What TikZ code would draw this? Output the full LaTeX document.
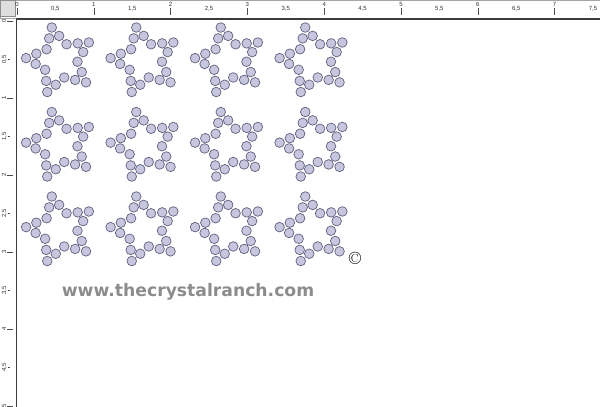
\documentclass[tikz,border=0pt]{standalone}
\usepackage{fontspec}
\newfontfamily\rulerfont{Liberation Sans}
\newfontfamily\markfont{DejaVu Sans}
\usetikzlibrary{calc}
\definecolor{beadfill}{RGB}{198,198,222}
\definecolor{beadline}{RGB}{96,96,128}
\definecolor{rulerline}{RGB}{60,60,60}
\definecolor{cornerfill}{RGB}{222,222,222}
\definecolor{markgray}{RGB}{140,140,140}

\begin{document}
\begin{tikzpicture}[x=1pt, y=1pt,
  bead/.style={draw=beadline, fill=beadfill, line width=0.7pt},
  tick/.style={draw=black!70, line width=0.5pt},
  ruler label/.style={font=\rulerfont\fontsize{6}{7}\selectfont,
    text=black!80, inner sep=0.5pt},
  side label/.style={ruler label, rotate=90},
  watermark/.style={font=\markfont\bfseries\fontsize{17.2}{20}\selectfont,
    text=markgray, inner sep=0pt}
  ]
  \useasboundingbox (0,0) rectangle (600,-407);
  \fill[white] (0,0) rectangle (600,-407);

  % rulers
  \draw[black!35, fill=white] (0,0) rectangle (600,-18);
  \draw[black!45, fill=cornerfill] (0.5,-0.5) rectangle (15,-16.5);
  \draw[rulerline, line width=1.6pt] (16,-19) -- (600,-19);
  \draw[rulerline, line width=1.6pt] (16.5,-19) -- (16.5,-407);

  \foreach \k in {0,...,7} {
    \node[ruler label] (top\k) at ({17+76.8*\k},-4.8) {\k};
    \draw[tick] (top\k.south) -- ++(0,-7);
    \node[ruler label] (tophalf\k) at ({17+76.8*(\k+0.5)},-9) {\k,5};
  }
  \foreach \k in {0,...,5} {
    \node[side label] (left\k) at (4,{-21-77*\k}) {\k};
    \draw[tick] (left\k.south) -- ++(6,0);
  }
  \foreach \k in {0,...,4} {
    \node[side label] (lefthalf\k) at (4.5,{-21-77*(\k+0.5)}) {\k,5};
    \draw[tick] (lefthalf\k.south) -- ++(2,0);
  }

  % stars of beads
  \foreach \i in {0,...,3} {
    \foreach \j in {0,...,2} {
      \coordinate (star\i\j) at ({60+84.5*\i},{-60.5-84.5*\j});
      \foreach \k in {0,...,4} {
        \pgfmathsetmacro\a{104+72*\k}
        \draw[bead] ($(star\i\j)+(\a:34)$) circle[radius=4.8pt];
        \draw[bead] ($(star\i\j)+0.5*(\a:34)+0.5*({\a-36}:17.5)$) circle[radius=4.8pt];
        \draw[bead] ($(star\i\j)+({\a-36}:17.5)$) circle[radius=4.8pt];
        \draw[bead] ($(star\i\j)+0.5*({\a-36}:17.5)+0.5*({\a-72}:34)$) circle[radius=4.8pt];
      }
    }
  }

  \node[font=\fontsize{18}{20}\selectfont, inner sep=0pt] (copy) at (355,-258) {\textcopyright};
  \node[watermark] (site) at (188,-292) {www.thecrystalranch.com};
\end{tikzpicture}
\end{document}
